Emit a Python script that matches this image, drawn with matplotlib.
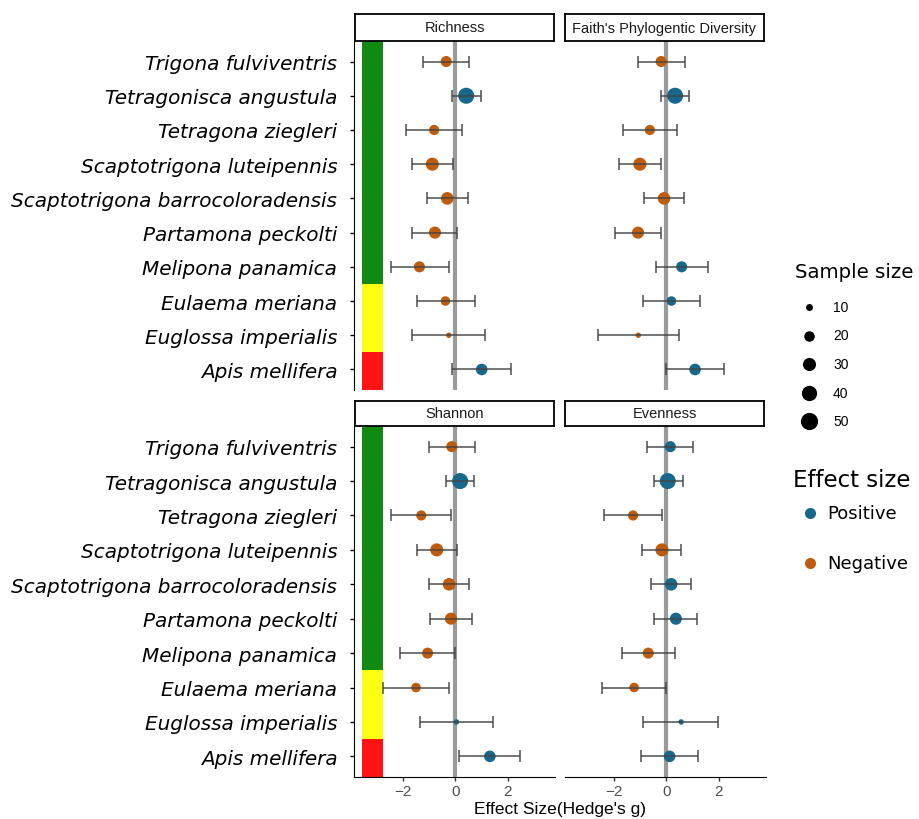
import matplotlib
matplotlib.use("Agg")
import matplotlib.pyplot as plt
import numpy as np

W, H = 919, 820
POS = "#17688A"; NEG = "#BF5B0C"
ZERO = "#9A9A9A"; ERR = "#444444"
TILE = {"green": "#128A12", "yellow": "#FFFF14", "red": "#FF1212"}

species = ["Trigona fulviventris", "Tetragonisca angustula", "Tetragona ziegleri",
           "Scaptotrigona luteipennis", "Scaptotrigona barrocoloradensis", "Partamona peckolti",
           "Melipona panamica", "Eulaema meriana", "Euglossa imperialis", "Apis mellifera"]
sample_n = [22, 44, 19, 30, 28, 26, 22, 17, 7, 24]
group = ["green"] * 7 + ["yellow"] * 2 + ["red"]

richness_g  = [-0.34, 0.42, -0.80, -0.87, -0.30, -0.77, -1.36, -0.37, -0.24, 1.01]
richness_lo = [-1.23, -0.13, -1.86, -1.65, -1.06, -1.63, -2.43, -1.46, -1.63, -0.13]
richness_hi = [0.54, 1.00, 0.25, -0.10, 0.47, 0.08, -0.24, 0.75, 1.15, 2.14]

faith_g  = [-0.19, 0.34, -0.62, -1.00, -0.08, -1.07, 0.59, 0.20, -1.06, 1.10]
faith_lo = [-1.06, -0.21, -1.65, -1.78, -0.85, -1.96, -0.40, -0.90, -2.60, -0.01]
faith_hi = [0.71, 0.87, 0.42, -0.21, 0.69, -0.18, 1.59, 1.29, 0.47, 2.22]

shannon_g  = [-0.13, 0.19, -1.29, -0.70, -0.23, -0.16, -1.05, -1.49, 0.05, 1.32]
shannon_lo = [-1.00, -0.35, -2.43, -1.46, -1.01, -0.97, -2.09, -2.76, -1.35, 0.14]
shannon_hi = [0.76, 0.71, -0.15, 0.06, 0.52, 0.65, 0.01, -0.22, 1.43, 2.47]

even_g  = [0.16, 0.06, -1.26, -0.16, 0.19, 0.37, -0.68, -1.22, 0.57, 0.13]
even_lo = [-0.72, -0.48, -2.38, -0.92, -0.58, -0.45, -1.68, -2.46, -0.87, -0.96]
even_hi = [1.03, 0.63, -0.14, 0.57, 0.95, 1.17, 0.34, 0.00, 1.98, 1.20]

legend_n = [10, 20, 30, 40, 50]
xticks = [-2, 0, 2]
XLIM = (-3.85, 3.8)
YLIM = (0.4, 10.6)


def msize(n):
    # marker area in pt^2, area grows linearly with sample size
    return np.maximum(3.2 * np.asarray(n, float) - 7, 4)


def rect(x0, y0, x1, y1):
    return [x0 / W, 1 - y1 / H, (x1 - x0) / W, (y1 - y0) / H]


fig = plt.figure(figsize=(W / 100, H / 100), dpi=100)
fig.patch.set_facecolor("white")

panels = [
    ("Richness", richness_g, richness_lo, richness_hi, (354, 42, 555, 391), (355, 15, 554, 42), True, False),
    ("Faith's Phylogentic Diversity", faith_g, faith_lo, faith_hi, (565, 42, 766, 391), (565, 15, 764, 42), False, False),
    ("Shannon", shannon_g, shannon_lo, shannon_hi, (354, 427, 555, 778), (355, 402, 554, 427), True, True),
    ("Evenness", even_g, even_lo, even_hi, (565, 427, 766, 778), (565, 402, 764, 427), False, True),
]

ypos = np.arange(len(species))[::-1] + 1

for title, g, lo, hi, box, sbox, left, bottom in panels:
    ax = fig.add_axes(rect(*box))
    ax.set_xlim(*XLIM); ax.set_ylim(*YLIM)
    for s in ["top", "right"]:
        ax.spines[s].set_visible(False)
    ax.spines["left"].set_visible(left)
    ax.spines["bottom"].set_visible(bottom)

    if left:
        # coloured group tiles
        i = 0
        while i < len(group):
            j = i
            while j + 1 < len(group) and group[j + 1] == group[i]:
                j += 1
            top = YLIM[1] if i == 0 else ypos[i] + 0.5
            bot = YLIM[0] if j == len(group) - 1 else ypos[j] - 0.5
            ax.barh((top + bot) / 2, 0.78, height=top - bot, left=-3.54,
                    color=TILE[group[i]], zorder=1)
            i = j + 1

    ax.axvline(0, color=ZERO, lw=3, zorder=1)
    g = np.array(g)
    cols = [POS if v > 0 else NEG for v in g]
    ax.scatter(g, ypos, s=msize(sample_n), c=cols, zorder=2, linewidths=0)
    ax.errorbar(g, ypos, xerr=[g - np.array(lo), np.array(hi) - g], fmt="none",
                ecolor=ERR, elinewidth=1.3, capsize=4.5, capthick=1.3, alpha=0.8, zorder=3)

    ax.set_yticks(ypos)
    if left:
        ax.set_yticklabels(species, fontstyle="italic", fontsize=14.4, color="black")
        ax.tick_params(axis="y", length=3, width=1, pad=9)
    else:
        ax.tick_params(axis="y", left=False, labelleft=False)
    ax.set_xticks(xticks)
    if bottom:
        ax.set_xticklabels(["\u22122", "0", "2"], family="Liberation Sans", fontsize=11, color="#4D4D4D")
        ax.tick_params(axis="x", length=3, width=1, pad=2, color="#333333")
    else:
        ax.tick_params(axis="x", bottom=False, labelbottom=False)

    sax = fig.add_axes(rect(*sbox))
    sax.set_xticks([]); sax.set_yticks([])
    for s in sax.spines.values():
        s.set_linewidth(1.3)
    sax.text(0.5, 0.5, title, ha="center", va="center", family="Liberation Sans",
             fontsize=10.5, color="#1A1A1A", transform=sax.transAxes)

fig.text(560 / W, 1 - 810 / H, "Effect Size(Hedge's g)", ha="center", va="center",
         family="Liberation Sans", fontsize=12.5)

# legends drawn in pixel space
lax = fig.add_axes(rect(770, 250, 919, 600))
lax.set_xlim(770, 919); lax.set_ylim(600, 250); lax.axis("off")
lax.text(795, 273, "Sample size", fontsize=14.2, va="center")
for k, n in enumerate(legend_n):
    yy = 308 + k * 28.5
    lax.scatter([809], [yy], s=msize([n]), color="black", linewidths=0)
    lax.text(833, yy, str(n), family="Liberation Sans", fontsize=10, va="center")
lax.text(793, 481, "Effect size", fontsize=16.5, va="center")
for yy, lab, c in [(514, "Positive", POS), (564, "Negative", NEG)]:
    lax.scatter([810], [yy], s=64, color=c, linewidths=0)
    lax.text(827, yy, lab, fontsize=13, va="center")

fig.savefig("out.png", dpi=100, facecolor="white")
